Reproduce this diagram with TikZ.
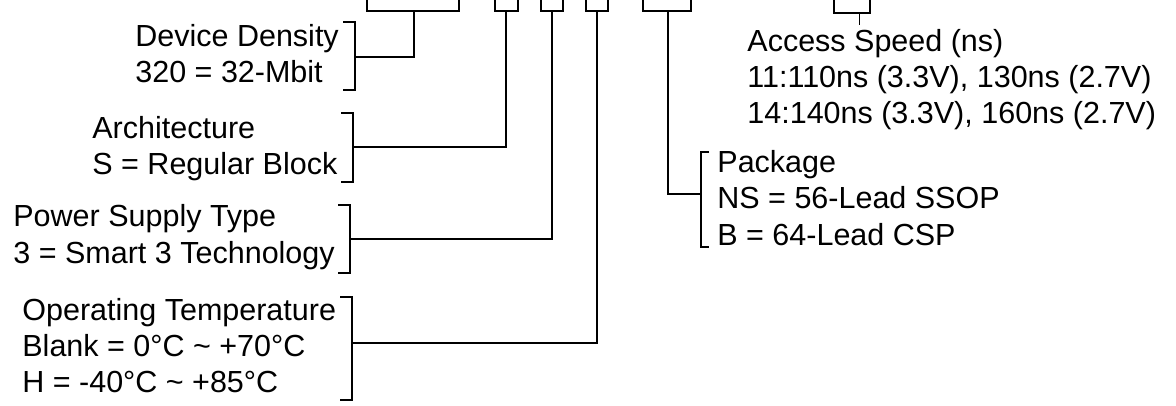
\documentclass[tikz,border=0pt]{standalone}
\usepackage{fontspec}
\setmainfont{Liberation Sans}
\usetikzlibrary{positioning}

\tikzset{
  partlbl/.style={font=\fontsize{15.25}{18}\selectfont, align=left,
    inner sep=0pt, anchor=base west},
  wire/.style={line width=0.9pt},
}

\begin{document}
\begin{tikzpicture}[x=0.5pt,y=-0.5pt]
\useasboundingbox (0,0) rectangle (1176,406);
% Helper macros: \closebrk{x}{top}{bottom}, \openbrk{x}{top}{bottom}
\newcommand{\closebrk}[3]{%
  \draw[wire] (#1-12,#2) -- (#1,#2) -- (#1,#3) -- (#1-12,#3);
}
\newcommand{\openbrk}[3]{%
  \draw[wire] (#1+8,#2) -- (#1,#2) -- (#1,#3) -- (#1+8,#3);
}

% Field brackets of the part number
\foreach \l/\r/\b in {367/459/11, 495/518/11, 541/563/11,
  586/608/11, 643/691/11, 834/870/13} {
  \draw[wire] (\l,0) |- (\r,\b) -- (\r,0);
}

% Stem tops
\coordinate (densT) at (414,11);
\coordinate (archT) at (506,11);
\coordinate (pwrT) at (552,11);
\coordinate (tempT) at (597,11);
\coordinate (pkgT) at (668,11);
\coordinate (speedT) at (859,13);
\coordinate (speedB) at (859,25);

% Labels (placed by the baseline of their last line)
\node[partlbl] (dens) at (135,83) {Device Density\\320 = 32-Mbit};
\node[partlbl] (arch) at (92,175) {Architecture\\S = Regular Block};
\node[partlbl] (pwr) at (13,263) {Power Supply Type\\3 = Smart 3 Technology};
\node[partlbl] (temp) at (22,392) {Operating Temperature\\
  Blank = 0°C \textasciitilde{} +70°C\\H = -40°C \textasciitilde{} +85°C};
\node[partlbl] (pkg) at (717,245) {Package\\NS = 56-Lead SSOP\\B = 64-Lead CSP};
\node[partlbl] (speed) at (747,124) {Access Speed (ns)\\
  11:110ns (3.3V), 130ns (2.7V)\\14:140ns (3.3V), 160ns (2.7V)};

% Label brackets
\closebrk{355}{22}{90}
\closebrk{353}{113}{182}
\closebrk{350}{205}{273}
\closebrk{352}{297}{400}
\openbrk{701}{152}{247}

% Joins
\coordinate (densJ) at (355,57);
\coordinate (archJ) at (353,147);
\coordinate (pwrJ) at (350,239);
\coordinate (tempJ) at (352,343);
\coordinate (pkgJ) at (701,194);

\draw[wire] (densT) |- (densJ);
\draw[wire] (archT) |- (archJ);
\draw[wire] (pwrT) |- (pwrJ);
\draw[wire] (tempT) |- (tempJ);
\draw[wire] (pkgT) |- (pkgJ);
\draw[line width=0.5pt] (speedT) -- (speedB);
\end{tikzpicture}
\end{document}
